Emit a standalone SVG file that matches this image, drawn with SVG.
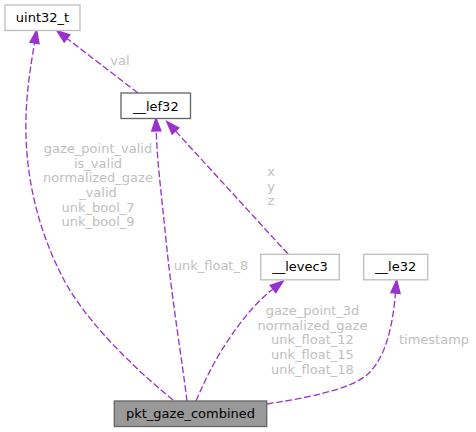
<svg xmlns="http://www.w3.org/2000/svg" width="476" height="432" viewBox="0 0 476 432">
<style>
  .node rect { stroke-width: 1.33; }
  .ext rect { fill: #ffffff; stroke: #bfbfbf; }
  .doc rect { fill: #ffffff; stroke: #666666; }
  .main rect { fill: #999999; stroke: #666666; }
  .ntxt { font-family: "DejaVu Sans", sans-serif; font-size: 13px; fill: #000000; text-anchor: middle; }
  .edge { fill: none; stroke: #9a32cd; stroke-width: 1.33; stroke-dasharray: 6.7 2.7; marker-end: url(#arrow); }
  .elbl { font-family: "DejaVu Sans", sans-serif; font-size: 13px; fill: #c0c0c0; text-anchor: middle; }
</style>
<defs>
  <marker id="arrow" markerUnits="userSpaceOnUse" viewBox="0 0 13 10" refX="0" refY="5" markerWidth="13" markerHeight="10" orient="auto" overflow="visible">
    <path d="M0,0.4 L13,5 L0,9.6 Z" fill="#9a32cd" stroke="#9a32cd" stroke-width="1.33"/>
  </marker>
</defs>
<rect width="476" height="432" fill="#ffffff"/>

<g id="connectors">
  <path class="edge" d="M173,400 C130,365 80,315 60,272 C38,228 27,180 26,135 C25,100 30,70 34.5,43"/>
  <path class="edge" d="M138,93 L67,38.5"/>
  <path class="edge" d="M187,401 C182,360 172,300 166,240 C161,190 157,160 156.3,131"/>
  <path class="edge" d="M288,254 L175.5,131"/>
  <path class="edge" d="M196,401 C205,380 215,360 225,345 C240,322 255,303 273,289"/>
  <path class="edge" d="M267,404 C305,398 350,390 368,374 C388,355 393,320 395.5,293"/>
  <text class="elbl" x="120" y="65">val</text>
  <text class="elbl" x="98" y="153">gaze_point_valid</text>
  <text class="elbl" x="98" y="167.7">is_valid</text>
  <text class="elbl" x="98" y="182.3">normalized_gaze</text>
  <text class="elbl" x="98" y="197">_valid</text>
  <text class="elbl" x="98" y="211.7">unk_bool_7</text>
  <text class="elbl" x="98" y="226.3">unk_bool_9</text>
  <text class="elbl" x="211" y="270">unk_float_8</text>
  <text class="elbl" x="271" y="176">x</text>
  <text class="elbl" x="271" y="190.7">y</text>
  <text class="elbl" x="271" y="205.3">z</text>
  <text class="elbl" x="312.5" y="315">gaze_point_3d</text>
  <text class="elbl" x="312.5" y="329.7">normalized_gaze</text>
  <text class="elbl" x="312.5" y="344.3">unk_float_12</text>
  <text class="elbl" x="312.5" y="359">unk_float_15</text>
  <text class="elbl" x="312.5" y="373.7">unk_float_18</text>
  <text class="elbl" x="434" y="344">timestamp</text>
</g>

<g id="node-uint32_t" class="node ext">
  <rect x="5" y="5" width="75" height="25.5"/>
  <text class="ntxt" x="42.5" y="21.7">uint32_t</text>
</g>
<g id="node-lef32" class="node doc">
  <rect x="121" y="93" width="69.5" height="25.5"/>
  <text class="ntxt" x="155.8" y="110.5">__lef32</text>
</g>
<g id="node-levec3" class="node ext">
  <rect x="260.7" y="254.3" width="78.6" height="25.5"/>
  <text class="ntxt" x="300" y="271.3">__levec3</text>
</g>
<g id="node-le32" class="node ext">
  <rect x="363.7" y="254.3" width="64" height="25.5"/>
  <text class="ntxt" x="395.7" y="271.3">__le32</text>
</g>
<g id="node-pkt_gaze_combined" class="node main">
  <rect x="114.3" y="401" width="152.4" height="25.5"/>
  <text class="ntxt" x="190.5" y="417.7">pkt_gaze_combined</text>
</g>
</svg>
